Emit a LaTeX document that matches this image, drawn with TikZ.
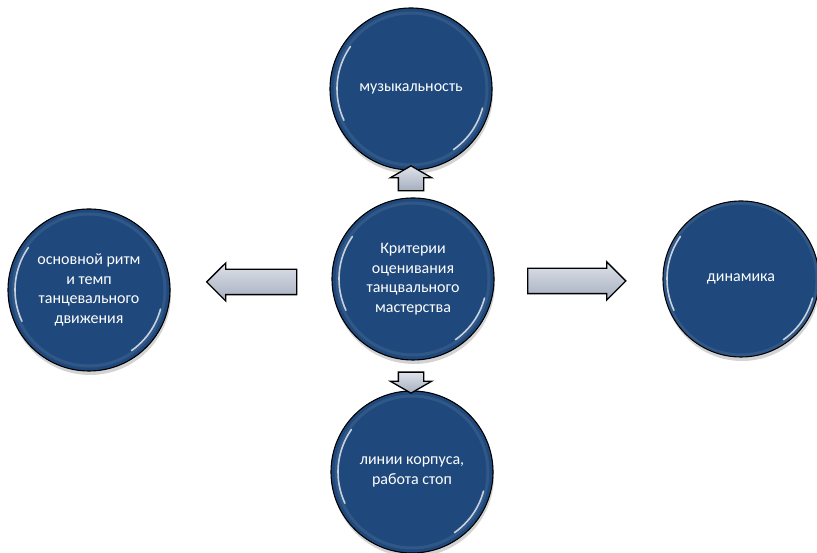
\documentclass[tikz,border=0pt]{standalone}
\usepackage{fontspec}
\setmainfont{Carlito}
\usetikzlibrary{shapes.arrows,positioning,shadows}
\definecolor{critblue}{RGB}{31,73,125}
\definecolor{arrlight}{RGB}{222,226,234}
\definecolor{arrdark}{RGB}{165,174,190}
\begin{document}
\begin{tikzpicture}[x=1pt,y=1pt,
crit/.style={circle,draw=black,line width=1.1pt,fill=critblue,minimum size=162pt,inner sep=0pt,
  text=white,align=center,font=\fontsize{16}{19.5}\selectfont,
  drop shadow={opacity=.35,shadow xshift=1pt,shadow yshift=-4pt}},
gloss/.style={white,line width=1.6pt,opacity=.75,line cap=round},
rim/.style={critblue!60!white,line width=3pt,opacity=.2},
blk/.style={single arrow,draw=black,line width=1.3pt,top color=arrlight,bottom color=arrdark,
  single arrow head extend=6.5pt,inner xsep=0pt,inner ysep=12pt},
blkv/.style={blk,inner xsep=12pt,inner ysep=0pt,single arrow head extend=8pt,single arrow tip angle=120}]
\useasboundingbox (0,0) rectangle (817,553);
\node [crit] (main) at (413,274) {Критерии\\оценивания\\танцвального\\мастерства};
\node [crit] (music) at (411,464) {музыкальность};
\node [crit] (body) at (412,81) {линии корпуса,\\работа стоп};
\node [crit] (rhythm) at (89,263) {основной ритм\\и темп\\танцевального\\движения};
\node [crit,minimum size=156pt] (dyn) at (741,274) {динамика};
\foreach \n in {main,music,body,rhythm,dyn}{
  \draw [rim] (\n.center) circle [radius=76];
  \draw [gloss] (\n.center) ++(145:74) arc [start angle=145,end angle=205,radius=74];
  \draw [gloss] (\n.center) ++(-55:74) arc [start angle=-55,end angle=-15,radius=74];
}
\node [blk,shape border rotate=180,minimum height=90pt] (toleft) at (258,271) {};
\node [blk,minimum height=98pt] (toright) at (570.5,272) {};
\node [blkv,shape border rotate=90,minimum height=25pt] (toup) at (411,371) {};
\node [blkv,shape border rotate=270,minimum height=21pt] (todown) at (411,174) {};
\end{tikzpicture}
\end{document}
